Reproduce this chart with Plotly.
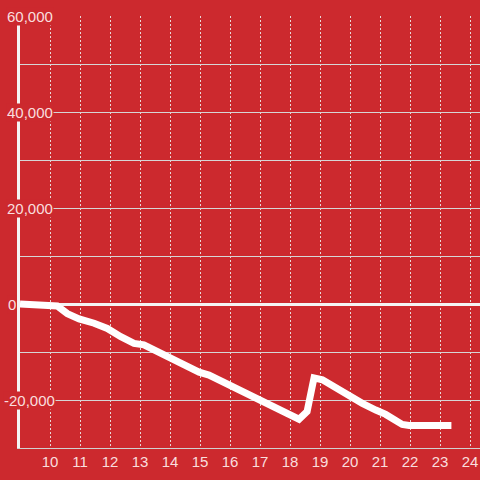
import plotly.graph_objects as go

# Data
x_vals = [9, 9.97, 10.24, 10.58, 10.97, 11.47, 11.91, 12.36, 12.8, 13.13, 13.6,
          14.3, 14.63, 14.97, 15.3, 15.63, 15.86, 16.3, 16.97, 17.19, 17.63,
          18.0, 18.3, 18.57, 18.8, 19.08, 19.63, 20.19, 20.41, 20.86, 21.19,
          21.74, 21.97, 23.38]
y_vals = [0, -200, -400, -2000, -3100, -4000, -5100, -6800, -8200, -8500, -10000,
          -12350, -13400, -14200, -14800, -15800, -16400, -17900, -20000, -20700, -21700,
          -23100, -24000, -22400, -15400, -15800, -17900, -20000, -20700, -22100, -23000,
          -25100, -25300, -25300]

x_ticks = list(range(10, 25))
y_tick_vals = [60000, 40000, 20000, 0, -20000]
y_tick_text = ["60,000", "40,000", "20,000", "0", "-20,000"]

BG = "#cc292e"
TXT = "rgba(255,240,240,0.92)"
FONT = "Liberation Sans, Arial, sans-serif"

fig = go.Figure()
fig.add_trace(go.Scatter(x=x_vals, y=y_vals, mode="lines",
                         line=dict(color="white", width=7),
                         cliponaxis=False, hoverinfo="skip"))

annotations = []
for v, t in zip(y_tick_vals, y_tick_text):
    left_px = 3 if t.startswith("-") else (7 if t == "0" else 6)
    annotations.append(dict(
        x=(left_px - 20) / 460, xref="paper", y=v, yref="y",
        xanchor="left", yanchor="middle", text=t, showarrow=False,
        font=dict(family=FONT, size=15, color=TXT),
        bgcolor=BG, borderpad=0))

fig.update_layout(
    width=480, height=480,
    margin=dict(l=20, r=0, t=16, b=32, autoexpand=False),
    paper_bgcolor=BG, plot_bgcolor=BG,
    showlegend=False,
    annotations=annotations,
    xaxis=dict(range=[9, 24.333], tickmode="array", tickvals=x_ticks,
               automargin=False,
               showgrid=True, gridcolor="rgba(235,235,235,0.9)", gridwidth=1,
               griddash="2px,2px", zeroline=False,
               showline=True, linecolor="#d0d0d0", linewidth=1,
               ticks="", tickfont=dict(family=FONT, size=15, color=TXT)),
    yaxis=dict(range=[-30000, 60000], dtick=10000, tick0=0,
               automargin=False,
               showgrid=True, gridcolor="#d6d6d6", gridwidth=1,
               zeroline=True, zerolinecolor="#f4f4f4", zerolinewidth=3,
               showline=True, linecolor="#f4f4f4", linewidth=3,
               showticklabels=False, ticks=""),
)

fig.write_html("out.html", config={"displayModeBar": False},
               post_script="document.body.style.margin='0';document.body.style.background='%s';" % BG)
